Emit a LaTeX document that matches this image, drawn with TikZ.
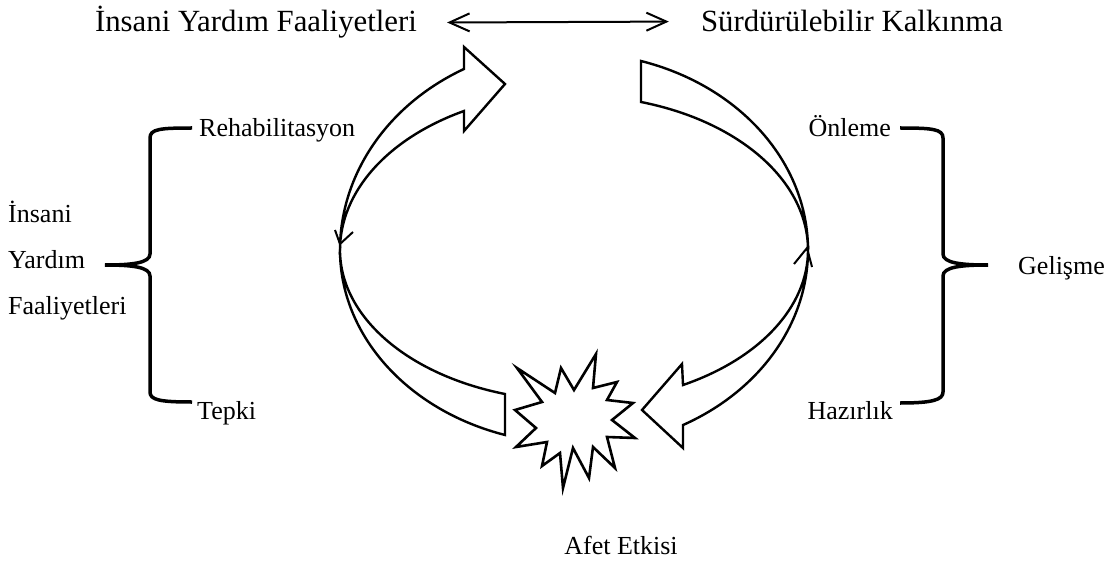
\documentclass[tikz,border=0pt]{standalone}
\usepackage{fontspec}
\setmainfont{Liberation Serif}
\usetikzlibrary{arrows.meta}
\begin{document}
\begin{tikzpicture}[x=1pt,y=1pt,
  blockarrow/.style={draw=black,line width=2.4pt,line join=miter,fill=white},
  vmark/.style={draw=black,line width=2pt},
  bracestyle/.style={draw=black,line width=3.5pt},
  ttl/.style={inner sep=0pt,font=\fontsize{30.8}{37}\selectfont},
  lbl/.style={inner sep=0pt,font=\fontsize{26}{31}\selectfont},
  linkarrow/.style={line width=2pt,{Straight Barb[length=20pt,width=18pt]}-{Straight Barb[length=20pt,width=18pt]}}]
\useasboundingbox (0,0) rectangle (1111,566);

% titles and the double arrow
\node[ttl,anchor=base] (tleft) at (256,534) {İnsani Yardım Faaliyetleri};
\node[ttl,anchor=base] (tright) at (852,534) {Sürdürülebilir Kalkınma};
\draw[linkarrow,shorten <=30pt,shorten >=32pt] (tleft.east) -- (tright.west);

% upper-left block arrow
\path[blockarrow] (340,316) arc[start angle=180,end angle=118.04,x radius=234,y radius=205.1]
  -- (464,519) -- (505,482) -- (464,435) -- (464,455)
  arc[start angle=118.04,end angle=180,x radius=234,y radius=157.5] -- cycle;
% upper-right block arrow
\path[blockarrow] (641,505) arc[start angle=73.36,end angle=0,x radius=234,y radius=197.3]
  arc[start angle=0,end angle=73.36,x radius=234,y radius=154.5] -- cycle;
% lower-left block arrow
\path[blockarrow] (340,316) arc[start angle=180,end angle=252.85,x radius=234,y radius=193.6]
  -- (505,172)
  arc[start angle=252.85,end angle=180,x radius=234,y radius=150.7] -- cycle;
% lower-right block arrow
\path[blockarrow] (808,316) arc[start angle=0,end angle=-62.24,x radius=234,y radius=197.8]
  -- (683,118) -- (642,156) -- (682,202) -- (683,181)
  arc[start angle=-62.24,end angle=0,x radius=234,y radius=152.6] -- cycle;

% small open tips at the sides
\draw[vmark] (335,336) -- (340,322) -- (353,334);
\draw[vmark] (794,302) -- (807,318) -- (812,299);

% disaster burst
\path[blockarrow,line width=2.6pt] (596,212) -- (574,176) -- (561,198) -- (555,173) -- (517,198)
  -- (542,164) -- (515,156) -- (536,138) -- (516,119) -- (547,124) -- (542,100)
  -- (560,113) -- (563,78) -- (573,118) -- (589,88) -- (593,119) -- (615,98)
  -- (607,129) -- (635,128) -- (612,146) -- (633,163) -- (607,166) -- (617,184)
  -- (593,178) -- cycle;

% left brace
\draw[bracestyle] (192,438) .. controls (160,438) and (150,437) .. (150,428) -- (150,312)
  .. controls (150,303) and (132,301) .. (105,301)
  .. controls (132,301) and (150,299) .. (150,290) -- (150,174)
  .. controls (150,166) and (160,164) .. (192,164);
% right brace
\draw[bracestyle] (900,438) .. controls (932,438) and (943,437) .. (943,428) -- (943,312)
  .. controls (943,303) and (961,301) .. (988,301)
  .. controls (961,301) and (943,299) .. (943,290) -- (943,174)
  .. controls (943,166) and (932,163) .. (900,163);

% labels
\node[lbl,anchor=base west] (reh) at (199,429) {Rehabilitasyon};
\node[lbl,anchor=base west] (tep) at (197,147) {Tepki};
\node[lbl,anchor=base east] (onl) at (891,429) {Önleme};
\node[lbl,anchor=base east] (haz) at (893,147) {Hazırlık};
\node[lbl,anchor=base west] (gel) at (1018,292) {Gelişme};
\node[lbl,anchor=base west] (ins) at (8,344) {İnsani};
\node[lbl,anchor=base west] (yar) at (8,298) {Yardım};
\node[lbl,anchor=base west] (faa) at (8,252) {Faaliyetleri};
\node[lbl,anchor=base] (afet) at (621,12) {Afet Etkisi};
\end{tikzpicture}
\end{document}
